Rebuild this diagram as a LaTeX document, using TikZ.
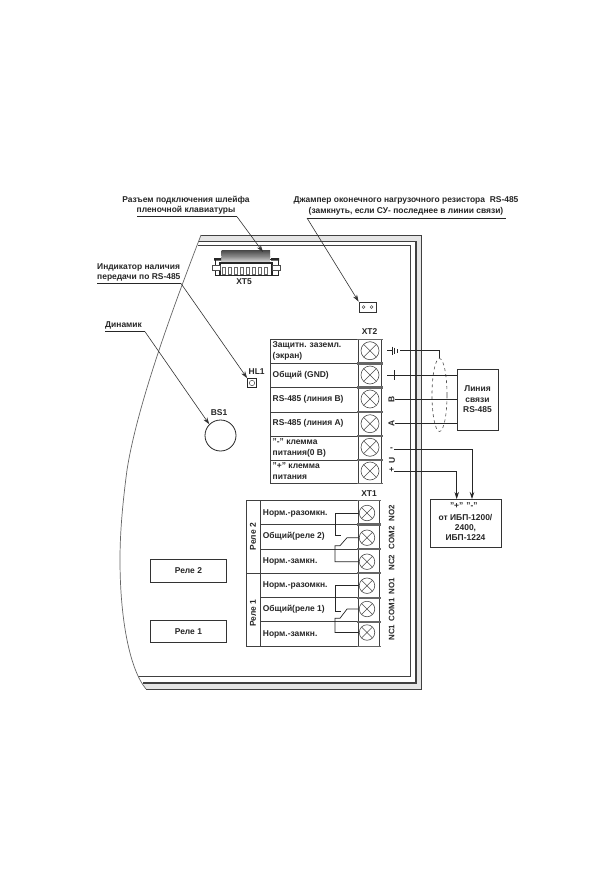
\documentclass[tikz,border=0pt]{standalone}
\usepackage{fontspec}
\setmainfont{Liberation Sans}
\usetikzlibrary{arrows.meta,shapes.geometric}
\tikzset{
 x=1pt,y=-1pt,
 lbl/.style={inner sep=0pt,align=center,font=\fontsize{8.45}{10.4}\selectfont\bfseries,text=black!85},
 lleft/.style={lbl,anchor=west,align=left},
 rot/.style={lbl,rotate=90},
 rotb/.style={lbl,rotate=90,font=\fontsize{7.9}{10}\selectfont\bfseries},
 wire/.style={draw=black!85,line width=0.7pt},
 board/.style={draw=black!75,line width=0.8pt},
 leader/.style={draw=black!80,line width=0.6pt,-{Stealth[length=7pt,width=4.5pt]}},
 tab/.style={draw=black!75,line width=0.8pt},
 box/.style={draw=black!80,line width=0.8pt,lbl},
 screw/.style={circle,draw=black!70,line width=0.6pt,inner sep=0pt,minimum size=#1,
   path picture={\draw[black!70,line width=0.6pt] (path picture bounding box.north west)--(path picture bounding box.south east)
   (path picture bounding box.north east)--(path picture bounding box.south west);}},
 sep/.style={draw=black!60,line width=2.4pt},
}
\begin{document}
\begin{tikzpicture}
\useasboundingbox (0,0) rectangle (600,888);
\fill[white] (0,0) rectangle (600,888);
% board
\fill[black!10] (201,235) -- (421.5,235) -- (421.5,689) -- (146,689) -- (143,683) -- (416,683) -- (416,241.5) -- (199,241.5) -- cycle;
\draw[board] (146,689) -- (421.5,689) -- (421.5,235) -- (201,235);
\draw[board,line width=1.1pt] (199,241.5) -- (416,241.5) -- (416,683) -- (143,683);
\draw[board] (198,245.7) -- (410.7,245.7) -- (410.7,676.7) -- (138,676.7);
\draw[draw=black!60,line width=0.7pt] (201,235) .. controls (178,295) and (138,400) .. (127,470) .. controls (122,508) and (120,535) .. (120,560) .. controls (120,620) and (130,670) .. (146,689);
% XT5
\shade[top color=black!70,bottom color=black!45] (221.7,250.5) rectangle (270,256.5);
\shade[top color=black!45,bottom color=black!10] (221.7,256.5) rectangle (270,263);
\draw[black!85,line width=1pt] (214,259) -- (220,259) (270,259) -- (279,259);
\fill[black!85] (214,258) rectangle (221,260.5) (271,258) rectangle (279,260.5);
\draw[black!85,line width=1.4pt] (220,275) -- (220,263) -- (272,263) -- (272,275);
\draw[black!85,line width=0.9pt] (215,260) -- (215,275) -- (278,275) -- (278,260);
\draw[black!70,fill=white,line width=0.5pt] (212,265) rectangle (220,270) (272,265) rectangle (280,270);
\foreach \p in {223.5,229.5,235.5,241.5,247.5,253.5,259.5,265.5}
  \draw[black!60,line width=0.5pt,fill=white] (\p-1.4,267) rectangle (\p+1.4,274);
\node[lbl] (xt5) at (244,282) {XT5};
\coordinate (xt5top) at (263,252);
% jumper
\node[draw=black!80,line width=0.7pt,minimum width=17pt,minimum height=10pt,inner sep=0pt] (jump) at (367.5,307) {};
\draw[black!70,line width=0.5pt] (363.5,307) circle (1.4) (371.5,307) circle (1.4);
% captions
\node[lbl] (capcon) at (186,205) {Разъем подключения шлейфа\\пленочной клавиатуры};
\coordinate (cona) at (137,216.7); \coordinate (conb) at (237,216.7);
\draw[wire] (cona) -- (conb);
\draw[leader] (conb) -- (xt5top);
\node[lbl] (capj) at (406,206) {Джампер оконечного нагрузочного резистора\; RS-485\\(замкнуть, если СУ- последнее в линии связи)};
\coordinate (ja) at (307,218); \coordinate (jb) at (506,218);
\draw[wire] (ja) -- (jb);
\draw[leader] (ja) -- (jump.north west);
\node[lbl,align=left,anchor=north west] (capi) at (97,263.5) {Индикатор наличия\\передачи по RS-485};
\coordinate (ia) at (97,283.5); \coordinate (ib) at (181,283.5);
\draw[wire] (ia) -- (ib);
\node[lbl,anchor=west] (capd) at (105,325) {Динамик};
\coordinate (da) at (105,331.7); \coordinate (db) at (145,331.7);
\draw[wire] (da) -- (db);
% HL1, BS1
\node[draw=black!85,line width=0.7pt,minimum size=9pt,inner sep=0pt] (hl) at (252,383) {};
\draw[black!70,line width=0.5pt] (252,383) circle (2.7);
\node[lbl] (hltxt) at (256.7,372) {HL1};
\draw[leader] (ib) -- (hl.north west);
\node[circle,draw=black!85,line width=0.8pt,minimum size=31pt,inner sep=0pt] (bs) at (220.5,435.5) {};
\node[lbl] (bstxt) at (219,412.7) {BS1};
\draw[leader] (db) -- (bs.north west);
% XT2 table
\draw[tab] (381.5,339) -- (270,339) -- (270,483.3) -- (381.5,483.3);
\foreach \y in {363.3,387.3,412,436,460} \draw[tab] (270,\y) -- (358,\y);
\draw[tab] (358,339) -- (358,483.3) (381.5,339) -- (381.5,483.3);
\foreach \y in {363.3,387.3,412,436,460} \draw[sep] (357,\y) -- (383,\y);
\draw[black!60,line width=1pt] (357,339) -- (383,339) (357,483.3) -- (383,483.3);
\node[lbl] (xt2) at (369.5,332) {XT2};
\node[screw=18pt] (a1) at (370,350.7) {};
\node[screw=18pt] (a2) at (370,375) {};
\node[screw=18pt] (a3) at (370,399) {};
\node[screw=18pt] (a4) at (370,423.7) {};
\node[screw=18pt] (a5) at (370,447.3) {};
\node[screw=18pt] (a6) at (370,471) {};
\node[lleft] (t1) at (272.5,351) {Защитн. заземл.\\(экран)};
\node[lleft] (t2) at (272.5,375) {Общий (GND)};
\node[lleft] (t3) at (272.5,399) {RS-485 (линия B)};
\node[lleft] (t4) at (272.5,423.5) {RS-485 (линия A)};
\node[lleft] (t5) at (272.5,448) {"-" клемма\\питания(0 В)};
\node[lleft] (t6) at (272.5,471) {"+" клемма\\питания};
% XT2 signs
\draw[black!85,line width=0.7pt] (387,350.7) -- (392,350.7) (392,346.5) -- (392,355) (394.5,347.5) -- (394.5,354) (397,349) -- (397,352.5);
\node[rot] (lb) at (391.5,399) {B};
\node[rot] (la) at (391.5,423.7) {A};
\node[rot] (lu) at (392,460) {U};
\node[lbl] (lm) at (391.5,449) {-};
\node[lbl] (lp) at (391.5,470.5) {+};
\coordinate (gs) at (400,350.7);
\coordinate (gnd) at (387,375);
\draw[black!85,line width=0.8pt] (394,370) -- (394,380);
% link box + shield
\node[box,minimum width=41pt,minimum height=61pt] (link) at (477.5,399.5) {Линия\\связи\\RS-485};
\node[draw=black!70,dashed,line width=0.6pt,ellipse,minimum width=15pt,minimum height=73pt,inner sep=0pt] (shield) at (439.5,395) {};
\draw[wire] (gs) -| (shield.north);
\draw[wire] (gnd) -- (gnd -| link.west);
\draw[wire] (lb.south) -- (lb.south -| link.west);
\draw[wire] (la.south) -- (la.south -| link.west);
% PSU box
\node[box,minimum width=70.5pt,minimum height=48.5pt] (psu) at (465.8,523.3) {};
\node[lbl] (pp) at (456.7,506) {"+"};
\node[lbl] (pm) at (472,506) {"-"};
\node[lbl] (ptxt) at (465.5,527.5) {от ИБП-1200/\\2400,\\ИБП-1224};
\coordinate (tminus) at (472,499); \coordinate (tplus) at (456.7,499);
\coordinate (sminus) at (394,449); \coordinate (splus) at (394,471);
\draw[wire,-{Stealth[length=7pt,width=4.5pt]}] (sminus) -| (tminus);
\draw[wire,-{Stealth[length=7pt,width=4.5pt]}] (splus) -| (tplus);
% XT1 table
\draw[tab] (379.5,500.7) -- (246,500.7) -- (246,646) -- (379.5,646);
\draw[tab] (260.7,500.7) -- (260.7,646);
\foreach \y in {524.3,549,597.7,621.7} \draw[tab] (260.7,\y) -- (358,\y);
\draw[tab] (246,573) -- (358,573);
\draw[tab] (358,500.7) -- (358,646) (379.5,500.7) -- (379.5,646);
\foreach \y in {524.3,549,573,597.7,621.7} \draw[sep] (357,\y) -- (380.5,\y);
\draw[black!60,line width=1pt] (357,500.7) -- (380.5,500.7) (357,646) -- (380.5,646);
\node[lbl] (xt1) at (369,494) {XT1};
\node[screw=15.5pt] (b1) at (367,513) {};
\node[screw=15.5pt] (b2) at (367,537.7) {};
\node[screw=15.5pt] (b3) at (367,561.7) {};
\node[screw=15.5pt] (b4) at (367,585.7) {};
\node[screw=15.5pt] (b5) at (367,609) {};
\node[screw=15.5pt] (b6) at (367,632.5) {};
\node[lleft] (r1) at (262.7,513) {Норм.-разомкн.};
\node[lleft] (r2) at (262.7,536.7) {Общий(реле 2)};
\node[lleft] (r3) at (262.7,561) {Норм.-замкн.};
\node[lleft] (r4) at (262.7,585.7) {Норм.-разомкн.};
\node[lleft] (r5) at (262.7,609) {Общий(реле 1)};
\node[lleft] (r6) at (262.7,634) {Норм.-замкн.};
\node[rot] (rel2) at (253,536.7) {Реле 2};
\node[rot] (rel1) at (253,613) {Реле 1};
\node[rotb] (n1) at (391.7,513) {NO2};
\node[rotb] (n2) at (391.7,538) {COM2};
\node[rotb] (n3) at (391.7,562.7) {NC2};
\node[rotb] (n4) at (391.7,586) {NO1};
\node[rotb] (n5) at (391.7,610) {COM1};
\node[rotb] (n6) at (391.7,632.7) {NC1};
% relay wiring
\draw[wire] (b1.west) -- (335,513) -- (335,535.7) -- (341,535.7);
\draw[wire] (b2.west) -- (347,537.7) -- (340,545.7) -- (335,545.7) -- (335,561.7) -- (b3.west);
\draw[wire] (b4.west) -- (335,585.7) -- (335,611) -- (341,611);
\draw[wire] (b5.west) -- (347,609) -- (340,618.3) -- (335,618.3) -- (335,632.5) -- (b6.west);
% relay boxes
\node[box,minimum width=75.3pt,minimum height=22.6pt] (k2) at (188.4,571) {Реле 2};
\node[box,minimum width=75.3pt,minimum height=22.4pt] (k1) at (188.4,631.5) {Реле 1};
\end{tikzpicture}
\end{document}
